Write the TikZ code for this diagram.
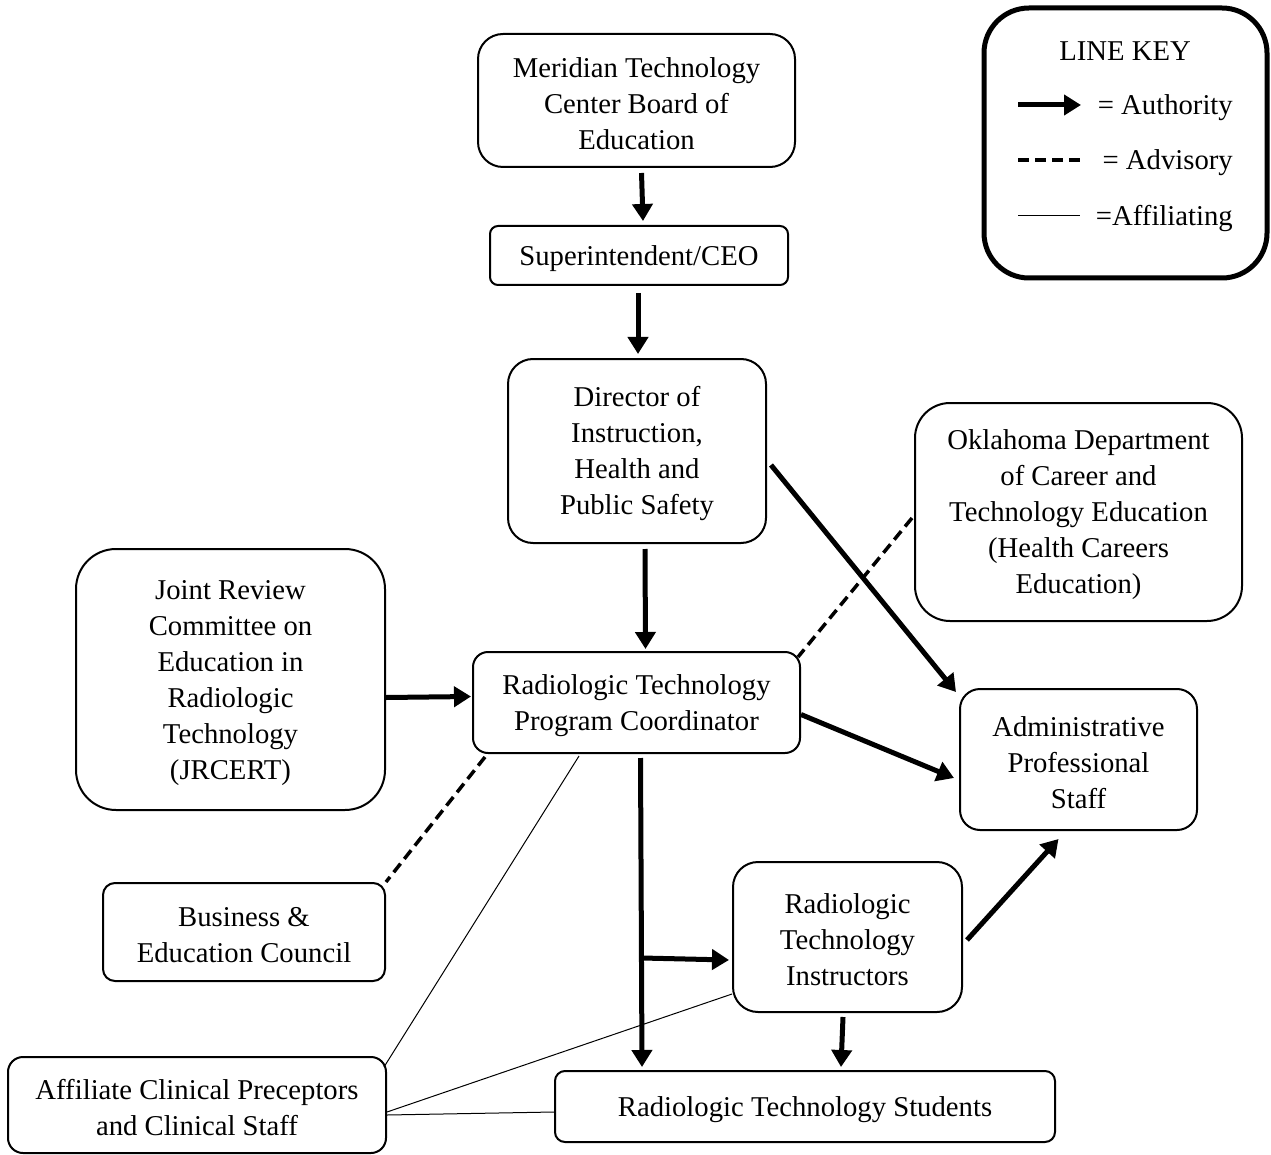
\documentclass[tikz,border=0pt]{standalone}
\usepackage{fontspec}
\setmainfont{Liberation Serif}
\usetikzlibrary{calc,arrows.meta}
\newcommand\lead{\rule{0pt}{26pt}}
\tikzset{
  box/.style={draw, line width=2pt, align=center, inner sep=0pt, font=\fontsize{28.7}{36}\selectfont},
  txt/.style={inner sep=0pt, font=\fontsize{28.7}{36}\selectfont},
  auth/.style={line width=5pt, -{Triangle[length=17pt,width=20pt]}},
  advis/.style={line width=3.5pt, dash pattern=on 11pt off 6pt},
  affil/.style={line width=1pt},
}
\begin{document}
\begin{tikzpicture}[x=1pt,y=-1pt]
\useasboundingbox (0,0) rectangle (1271,1155);
% boxes
\node[box, rounded corners=25pt, minimum width=317pt, minimum height=133pt] (mer) at (636.5,100.5) {\lead Meridian Technology\\Center Board of\\Education};
\node[box, rounded corners=8pt, minimum width=298pt, minimum height=59pt] (sup) at (639,255.5) {\lead Superintendent/CEO};
\node[box, rounded corners=25pt, minimum width=258pt, minimum height=184pt] (dir) at (637,451) {\lead Director of\\Instruction,\\Health and\\Public Safety};
\node[box, rounded corners=35pt, minimum width=327pt, minimum height=218pt] (okl) at (1078.5,512) {\lead Oklahoma Department\\of Career and\\Technology Education\\(Health Careers\\Education)};
\node[box, rounded corners=40pt, minimum width=309pt, minimum height=261pt] (jrc) at (230.5,679.5) {\lead Joint Review\\Committee on\\Education in\\Radiologic\\Technology\\(JRCERT)};
\node[box, rounded corners=15pt, minimum width=327pt, minimum height=101pt] (coo) at (636.5,702.5) {\lead Radiologic Technology\\Program Coordinator};
\node[box, rounded corners=20pt, minimum width=237pt, minimum height=141pt] (adm) at (1078.5,759.5) {\lead Administrative\\Professional\\Staff};
\node[box, rounded corners=12pt, minimum width=282pt, minimum height=98pt] (bus) at (244,932) {\lead Business \&\\Education Council};
\node[box, rounded corners=25pt, minimum width=229pt, minimum height=150pt] (ins) at (847.5,937) {\lead Radiologic\\Technology\\Instructors};
\node[box, rounded corners=15pt, minimum width=378pt, minimum height=96pt] (aff) at (197,1105) {\lead Affiliate Clinical Preceptors\\and Clinical Staff};
\node[box, rounded corners=10pt, minimum width=500pt, minimum height=71pt] (stu) at (805,1106.5) {\lead Radiologic Technology Students};
% line key
\node[draw, line width=5pt, rounded corners=45pt, minimum width=283pt, minimum height=270pt] (key) at (1125.5,143) {};
\node[txt, anchor=base] (keyt) at (1125,61) {LINE KEY};
\node[txt, anchor=base east] (ka) at (1233,115) {= Authority};
\node[txt, anchor=base east] (kd) at (1233,170) {= Advisory};
\node[txt, anchor=base east] (kf) at (1233,226) {=Affiliating};
\coordinate (k1a) at (1018,105); \coordinate (k1b) at (1081,105);
\coordinate (k2a) at (1018,160); \coordinate (k2b) at (1085,160);
\coordinate (k3a) at (1018,216); \coordinate (k3b) at (1080,216);
\draw[auth] (k1a) -- (k1b);
\draw[advis] (k2a) -- (k2b);
\draw[affil] (k3a) -- (k3b);
% authority
\draw[auth] ($(mer.south)+(5,5)$) -- ($(sup.north)+(4,-4)$);
\draw[auth] ($(sup.south)+(-1,7)$) -- ($(dir.north)+(1,-4)$);
\draw[auth] ($(dir.south)+(8,5)$) -- ($(coo.north)+(9,-2)$);
\draw[auth] ($(dir.east)+(4,14)$) -- ($(adm.north west)+(-3,4)$);
\draw[auth] ($(jrc.east)+(0,18)$) -- ($(coo.west)+(-1,-6)$);
\draw[auth] ($(coo.east)+(0,12)$) -- ($(adm.west)+(-5,18.5)$);
\draw[auth] ($(coo.south)+(4,4)$) -- ($(stu.north west)+(88,-3)$);
\coordinate (br) at (642,958);
\draw[auth] (br) -- ($(ins.west)+(-3,23)$);
\draw[auth] ($(ins.east)+(4,3)$) -- ($(adm.south)+(-20,8)$);
\draw[auth] ($(ins.south)+(-4.5,4)$) -- ($(stu.north)+(36,-3)$);
% advisory
\draw[advis] ($(okl.west)+(-2,6)$) -- ($(coo.north east)+(-3,6)$);
\draw[advis] ($(coo.south west)+(13,3)$) -- (bus.north east);
% affiliating
\draw[affil] ($(coo.south west)+(107,2)$) -- ($(aff.north east)+(-3,11)$);
\draw[affil] ($(ins.south west)+(0,-19)$) -- ($(aff.east)+(0,7)$);
\draw[affil] ($(stu.west)+(0,5.5)$) -- ($(aff.east)+(0,10)$);
\end{tikzpicture}
\end{document}
